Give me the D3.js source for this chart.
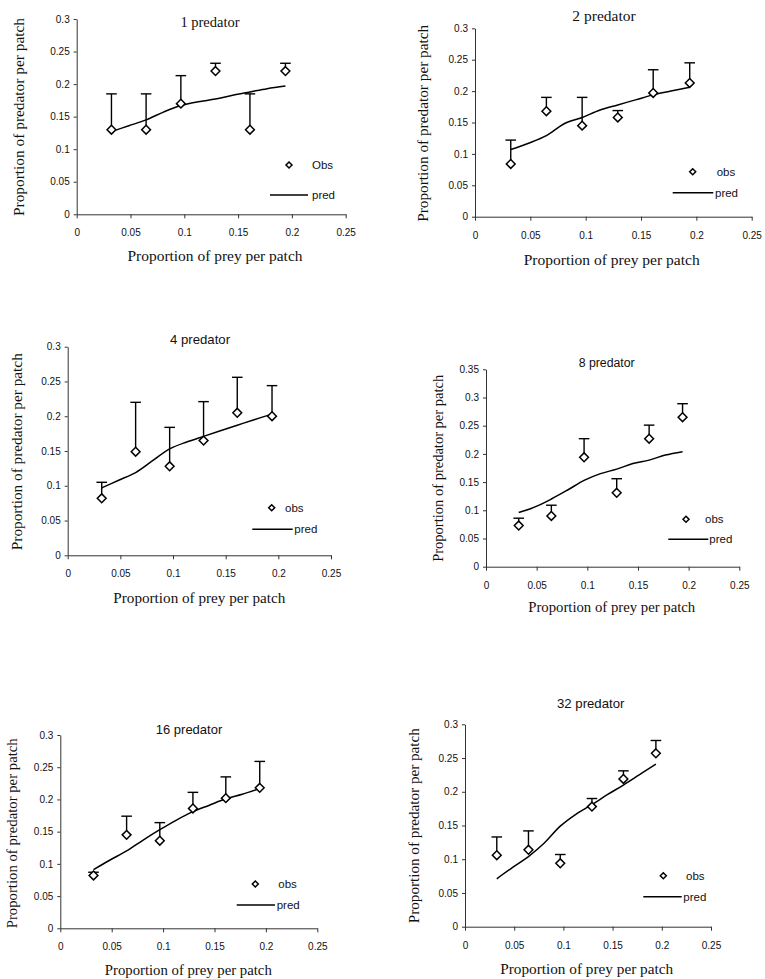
<!DOCTYPE html>
<html><head><meta charset="utf-8">
<script src="https://cdn.jsdelivr.net/npm/d3@7"></script>
<style>body{margin:0;background:#fff} svg{display:block}</style>
</head><body><svg id="c" width="765" height="979"></svg>
<script>
// ---------- data ----------
const preyX = [0.0323, 0.0645, 0.0968, 0.129, 0.161, 0.194];
const predX = [0.0323, 0.0484, 0.0645, 0.0806, 0.0968, 0.113, 0.129, 0.145, 0.161, 0.177, 0.194];
const xTickValues = [0, 0.05, 0.1, 0.15, 0.2, 0.25];
const xTickLabels = ["0", "0.05", "0.1", "0.15", "0.2", "0.25"];
const yTickValues = [0, 0.05, 0.1, 0.15, 0.2, 0.25, 0.3];
const yTickLabels = ["0", "0.05", "0.1", "0.15", "0.2", "0.25", "0.3"];
const yTickValues35 = [0, 0.05, 0.1, 0.15, 0.2, 0.25, 0.3, 0.35];
const yTickLabels35 = ["0", "0.05", "0.1", "0.15", "0.2", "0.25", "0.3", "0.35"];
const titles = ["1 predator", "2 predator", "4 predator", "8 predator", "16 predator", "32 predator"];
const obsNames = ["Obs", "obs", "obs", "obs", "obs", "obs"];
const predName = "pred";
const xTitle = "Proportion of prey per patch";
const yTitle = "Proportion of predator per patch";

const obs1 = [0.130, 0.130, 0.170, 0.220, 0.130, 0.220];
const err1 = [0.185, 0.185, 0.213, 0.232, 0.185, 0.232];
const pred1 = [0.127, 0.136, 0.145, 0.157, 0.167, 0.173, 0.177, 0.183, 0.188, 0.193, 0.197];

const obs2 = [0.084, 0.168, 0.145, 0.158, 0.197, 0.213];
const err2 = [0.122, 0.190, 0.190, 0.169, 0.234, 0.245];
const pred2 = [0.107, 0.117, 0.129, 0.148, 0.158, 0.170, 0.178, 0.186, 0.194, 0.200, 0.206];

const obs4 = [0.082, 0.149, 0.128, 0.165, 0.205, 0.200];
const err4 = [0.105, 0.220, 0.184, 0.221, 0.256, 0.244];
const pred4 = [0.097, 0.108, 0.119, 0.136, 0.153, 0.163, 0.171, 0.179, 0.187, 0.195, 0.203];

const obs8 = [0.073, 0.090, 0.194, 0.131, 0.227, 0.265];
const err8 = [0.086, 0.109, 0.227, 0.156, 0.251, 0.289];
const pred8 = [0.096, 0.106, 0.120, 0.136, 0.153, 0.165, 0.173, 0.183, 0.189, 0.198, 0.204];

const obs16 = [0.082, 0.145, 0.136, 0.186, 0.202, 0.218];
const err16 = [0.087, 0.174, 0.164, 0.211, 0.235, 0.259];
const pred16 = [0.091, 0.106, 0.120, 0.137, 0.153, 0.168, 0.181, 0.191, 0.201, 0.208, 0.217];

const obs32 = [0.106, 0.114, 0.094, 0.178, 0.219, 0.257];
const err32 = [0.133, 0.142, 0.107, 0.190, 0.231, 0.276];
const pred32 = [0.071, 0.088, 0.104, 0.124, 0.149, 0.167, 0.181, 0.196, 0.210, 0.225, 0.241];

// ---------- layout (positions / styles only) ----------
const SERIF = "'Liberation Serif','DejaVu Serif',serif";
const SANS = "'Liberation Sans',Arial,Helvetica,sans-serif";
const panels = [
  {obs: obs1, err: err1, pred: pred1, yMax: 0.3, yt: yTickValues, ytl: yTickLabels,
   L: 76.7, R: 345.7, T: 19, B: 214.3, titleFont: SERIF, titleSize: 14.5, tx: 210, ty: 26.5,
   ylx: 23.5, yly: 117, ylLen: 198, xlx: 215, xly: 261, xlLen: 175,
   leg: {dx: 289, dy: 165, ox: 312, lx1: 270, lx2: 308, ly: 195, px: 312}},
  {obs: obs2, err: err2, pred: pred2, yMax: 0.3, yt: yTickValues, ytl: yTickLabels,
   L: 475, R: 751.7, T: 28.3, B: 216.7, titleFont: SERIF, titleSize: 15.5, tx: 604, ty: 20.7,
   ylx: 427.5, yly: 123.3, ylLen: 197, xlx: 611.7, xly: 265, xlLen: 176,
   leg: {dx: 692.7, dy: 171.7, ox: 716.7, lx1: 672.7, lx2: 713.3, ly: 192.7, px: 715}},
  {obs: obs4, err: err4, pred: pred4, yMax: 0.3, yt: yTickValues, ytl: yTickLabels,
   L: 67.7, R: 331, T: 346.7, B: 555.3, titleFont: SANS, titleSize: 13.2, tx: 200, ty: 344,
   ylx: 22, yly: 451.7, ylLen: 197, xlx: 199.3, xly: 602.7, xlLen: 172,
   leg: {dx: 271.7, dy: 507.7, ox: 285, lx1: 252.3, lx2: 292.7, ly: 529.3, px: 294.3}},
  {obs: obs8, err: err8, pred: pred8, yMax: 0.35, yt: yTickValues35, ytl: yTickLabels35,
   L: 486, R: 739.3, T: 369.3, B: 566.7, titleFont: SANS, titleSize: 12.3, tx: 606.7, ty: 367.3,
   ylx: 442.5, yly: 468.3, ylLen: 187, xlx: 611.7, xly: 612.3, xlLen: 167,
   leg: {dx: 686, dy: 519.3, ox: 705, lx1: 668.3, lx2: 708.3, ly: 539.3, px: 709.3}},
  {obs: obs16, err: err16, pred: pred16, yMax: 0.3, yt: yTickValues, ytl: yTickLabels,
   L: 60.3, R: 317.3, T: 735, B: 928.3, titleFont: SANS, titleSize: 13, tx: 189, ty: 734.3,
   ylx: 17, yly: 833.3, ylLen: 190, xlx: 188.3, xly: 975, xlLen: 167,
   leg: {dx: 255.3, dy: 884, ox: 278.3, lx1: 236.7, lx2: 275, ly: 905, px: 276.7}},
  {obs: obs32, err: err32, pred: pred32, yMax: 0.3, yt: yTickValues, ytl: yTickLabels,
   L: 465, R: 711, T: 724.3, B: 926.7, titleFont: SANS, titleSize: 13.2, tx: 590.7, ty: 708.3,
   ylx: 419, yly: 825.7, ylLen: 195, xlx: 586.7, xly: 974, xlLen: 173,
   leg: {dx: 663.3, dy: 875.7, ox: 686, lx1: 643.3, lx2: 681.7, ly: 896.7, px: 683.3}}
];

const svg = d3.select("#c");
const diamond = r => `M0,${-r}L${r},0L0,${r}L${-r},0Z`;

panels.forEach((p, i) => {
  const x = d3.scaleLinear().domain([0, 0.25]).range([p.L, p.R]);
  const y = d3.scaleLinear().domain([0, p.yMax]).range([p.B, p.T]);
  const g = svg.append("g");

  const xa = g.append("g").attr("transform", `translate(0,${p.B})`)
    .call(d3.axisBottom(x).tickValues(xTickValues).tickFormat((d, j) => xTickLabels[j])
      .tickSize(4).tickSizeOuter(0).tickPadding(11));
  const ya = g.append("g").attr("transform", `translate(${p.L},0)`)
    .call(d3.axisLeft(y).tickValues(p.yt).tickFormat((d, j) => p.ytl[j])
      .tickSize(3).tickSizeOuter(0).tickPadding(4));
  [xa, ya].forEach(a => {
    a.attr("font-family", null).attr("font-size", null);
    a.selectAll("path,line").attr("stroke", "#333").attr("stroke-width", 1);
    a.selectAll("text").attr("fill", "#111").attr("font-family", SANS).attr("font-size", 10);
  });

  const eb = g.append("g").attr("stroke", "#000").attr("stroke-width", 1.4).attr("fill", "none");
  preyX.forEach((xv, j) => {
    eb.append("line").attr("x1", x(xv)).attr("x2", x(xv)).attr("y1", y(p.obs[j])).attr("y2", y(p.err[j]));
    eb.append("line").attr("x1", x(xv) - 5.3).attr("x2", x(xv) + 5.3).attr("y1", y(p.err[j])).attr("y2", y(p.err[j]));
  });

  g.append("path").datum(predX.map((xv, j) => [xv, p.pred[j]]))
    .attr("fill", "none").attr("stroke", "#000").attr("stroke-width", 1.5)
    .attr("d", d3.line().x(d => x(d[0])).y(d => y(d[1])).curve(d3.curveCatmullRom.alpha(0.5)));

  g.append("g").selectAll("path").data(preyX.map((xv, j) => [xv, p.obs[j]])).join("path")
    .attr("d", diamond(4.4)).attr("transform", d => `translate(${x(d[0])},${y(d[1])})`)
    .attr("fill", "#fff").attr("stroke", "#000").attr("stroke-width", 1.5);

  g.append("text").attr("x", p.tx).attr("y", p.ty).attr("text-anchor", "middle").attr("fill", "#111")
    .attr("font-family", p.titleFont).attr("font-size", p.titleSize).text(titles[i]);

  g.append("text").attr("x", p.xlx).attr("y", p.xly).attr("text-anchor", "middle").attr("fill", "#111")
    .attr("textLength", p.xlLen).attr("lengthAdjust", "spacingAndGlyphs")
    .attr("font-family", SERIF).attr("font-size", 14.5).text(xTitle);
  g.append("text").attr("transform", `translate(${p.ylx},${p.yly}) rotate(-90)`).attr("text-anchor", "middle").attr("fill", "#111")
    .attr("textLength", p.ylLen).attr("lengthAdjust", "spacingAndGlyphs")
    .attr("font-family", SERIF).attr("font-size", 14.5).text(yTitle);

  const lg = p.leg;
  g.append("path").attr("d", diamond(3)).attr("transform", `translate(${lg.dx},${lg.dy})`)
    .attr("fill", "#fff").attr("stroke", "#000").attr("stroke-width", 1.5);
  g.append("text").attr("x", lg.ox).attr("y", lg.dy + 4).attr("fill", "#111")
    .attr("font-family", SANS).attr("font-size", 11.5).text(obsNames[i]);
  g.append("line").attr("x1", lg.lx1).attr("x2", lg.lx2).attr("y1", lg.ly).attr("y2", lg.ly)
    .attr("stroke", "#000").attr("stroke-width", 1.5);
  g.append("text").attr("x", lg.px).attr("y", lg.ly + 4).attr("fill", "#111")
    .attr("font-family", SANS).attr("font-size", 11.5).text(predName);
});
</script>
</body></html>
